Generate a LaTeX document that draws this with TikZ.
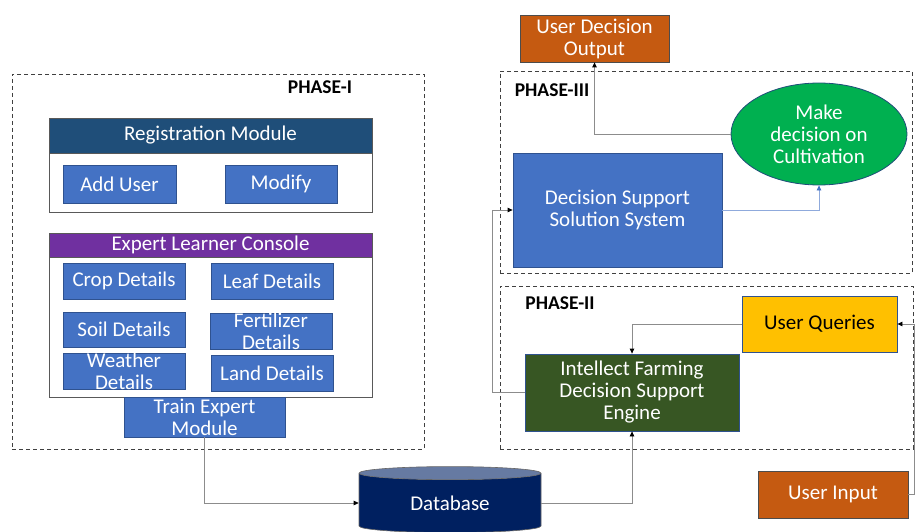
\documentclass[tikz,border=0pt]{standalone}
\usepackage{fontspec}
\setmainfont{Carlito}
\usepackage{tikz}
\usetikzlibrary{arrows.meta,positioning,shapes.geometric,calc}

\definecolor{boxblue}{HTML}{4472C4}
\definecolor{boxedge}{HTML}{2F528F}
\definecolor{reghead}{HTML}{1F4E79}
\definecolor{elcpurple}{HTML}{7030A0}
\definecolor{leafgreen}{HTML}{00B050}
\definecolor{enginegreen}{HTML}{375623}
\definecolor{queryyellow}{HTML}{FFC000}
\definecolor{userorange}{HTML}{C55A11}
\definecolor{dbnavy}{HTML}{002060}
\definecolor{dbtop}{HTML}{667AA2}
\definecolor{linkgray}{HTML}{8C8C8C}
\definecolor{linkblue}{HTML}{8FAADC}

\begin{document}
\begin{tikzpicture}[x=1pt, y=-1pt,
    every node/.style={font=\fontsize{21}{22}\selectfont},
    phase/.style={rectangle, draw=black!75, line width=0.9pt, dash pattern=on 4pt off 3pt, inner sep=0pt},
    phasetitle/.style={font=\fontsize{19.5}{22}\selectfont\bfseries},
    frame/.style={rectangle, draw=black!65, line width=1pt, fill=white, inner sep=0pt},
    header/.style={rectangle, draw=black!65, line width=1pt, inner sep=0pt, text=white},
    item/.style={rectangle, draw=boxedge, line width=0.8pt, fill=boxblue, inner sep=0pt, text=white, align=center},
    itemtext/.style={text=white, align=center, inner sep=0pt},
    arrow/.style={-{Triangle[length=5pt,width=4.5pt,color=black]}, draw=linkgray, line width=0.8pt}
]
\useasboundingbox (0,0) rectangle (917,532);

% phase I
\node[phase, minimum width=412, minimum height=375] (ph1) at (218,261.5) {};
\node[phasetitle] (ph1title) at (320,87) {PHASE-I};

\node[frame, minimum width=323, minimum height=94] (reg) at (210.5,165) {};
\node[header, fill=reghead, minimum width=323, minimum height=35] (reghd) at (210.5,135.5) {Registration Module};
\node[item, minimum width=113, minimum height=38] (adduser) at (119.5,184) {Add User};
\node[item, minimum width=112, minimum height=38] (modify) at (281,184) {Modify};

\node[frame, minimum width=323, minimum height=164] (elc) at (210.5,315) {};
\node[header, fill=elcpurple, minimum width=323, minimum height=24] (elchd) at (210.5,245) {Expert Learner Console};
\node[item, minimum width=122, minimum height=36] (crop) at (124,281) {Crop Details};
\node[item, minimum width=122, minimum height=36] (leaf) at (272,281) {Leaf Details};
\node[item, minimum width=122, minimum height=35] (soil) at (124,329.5) {Soil Details};
\node[item, minimum width=122, minimum height=36,
      label={[itemtext]center:Fertilizer\\Details}] (fert) at (271,331) {};
\node[item, minimum width=122, minimum height=36,
      label={[itemtext]center:Weather\\Details}] (weather) at (124,371) {};
\node[item, minimum width=122, minimum height=36] (land) at (272,373) {Land Details};
\node[item, minimum width=161, minimum height=40,
      label={[itemtext]center:Train Expert\\Module}] (train) at (204.5,417) {};

% database
\node[cylinder, shape border rotate=90, aspect=0.165, draw=black!60, line width=0.6pt,
      cylinder uses custom fill, cylinder body fill=dbnavy, cylinder end fill=dbtop,
      minimum width=182, minimum height=66, inner sep=0pt, text=white] (db) at (450,503) {Database};

% phase III
\node[phase, minimum width=412, minimum height=202] (ph3) at (706,172) {};
\node[phasetitle] (ph3title) at (552,90) {PHASE-III};
\node[item, fill=userorange, draw=black!70, minimum width=149, minimum height=47] (output) at (594.5,38.5) {User Decision\\Output};
\node[item, minimum width=209, minimum height=114] (dss) at (617.5,210) {Decision Support\\Solution System};
\node[ellipse, draw=reghead, line width=0.8pt, fill=leafgreen, text=white, align=center,
      minimum width=176, minimum height=102, inner sep=0pt] (cultivate) at (819,134) {Make\\decision on\\Cultivation};

% phase II
\node[phase, minimum width=413, minimum height=163] (ph2) at (706.5,367.5) {};
\node[phasetitle] (ph2title) at (560,303) {PHASE-II};
\node[item, fill=queryyellow, text=black, minimum width=155, minimum height=56] (queries) at (819.5,324) {User Queries};
\node[item, fill=enginegreen, minimum width=214, minimum height=77] (engine) at (632,392.5) {Intellect Farming\\Decision Support\\Engine};
\node[item, fill=userorange, draw=black!70, minimum width=150, minimum height=47] (input) at (833,494.5) {User Input};

% links
\draw[arrow] (train.south) |- (db.west);
\draw[arrow] (db.east) -| (engine.south);
\draw[arrow] (queries.west) -| (engine.north);
\draw[arrow] (input.east) -- ++(6,0) |- (queries.east);
\draw[arrow] (engine.west) -- ++(-32,0) |- (dss.west);
\draw[arrow, draw=linkblue, -{Triangle[length=5pt,width=4.5pt,color=boxblue]}] (dss.east) -| (cultivate.south);
\draw[arrow] (cultivate.west) -| (output.south);
\end{tikzpicture}
\end{document}
